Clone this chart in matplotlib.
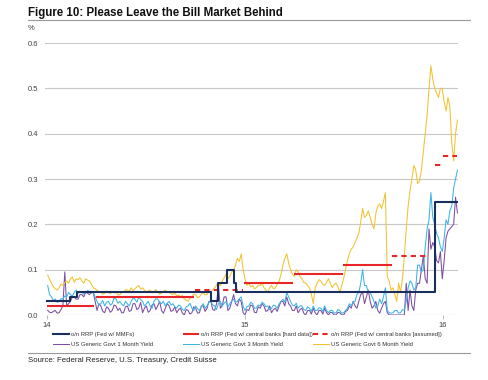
import matplotlib
matplotlib.use("Agg")
import matplotlib.pyplot as plt
import pandas as pd

plt.rcParams['font.family'] = ['Liberation Sans', 'DejaVu Sans']

# ---------------- data ----------------
# twice-weekly observations, 2014-01-02 .. 2016-01-28
dates = pd.date_range('2014-01-02', periods=217, freq='84h')

yield_6m = [0.088, 0.078, 0.070, 0.062, 0.058, 0.055, 0.060, 0.068, 0.065, 0.072,
            0.075, 0.070, 0.080, 0.084, 0.072, 0.080, 0.078, 0.082, 0.075, 0.070,
            0.080, 0.077, 0.075, 0.068, 0.060, 0.058, 0.055, 0.050, 0.050, 0.046,
            0.048, 0.053, 0.050, 0.047, 0.052, 0.049, 0.050, 0.044, 0.045, 0.050,
            0.050, 0.056, 0.055, 0.052, 0.060, 0.054, 0.058, 0.062, 0.065, 0.057,
            0.060, 0.055, 0.050, 0.053, 0.055, 0.049, 0.052, 0.056, 0.050, 0.046,
            0.048, 0.052, 0.055, 0.050, 0.050, 0.047, 0.045, 0.049, 0.042, 0.044,
            0.040, 0.043, 0.035, 0.033, 0.030, 0.037, 0.040, 0.046, 0.045, 0.038,
            0.040, 0.046, 0.050, 0.044, 0.045, 0.052, 0.050, 0.056, 0.060, 0.066,
            0.070, 0.064, 0.075, 0.082, 0.090, 0.080, 0.085, 0.095, 0.100, 0.110,
            0.125, 0.118, 0.135, 0.100, 0.080, 0.065, 0.070, 0.062, 0.065, 0.058,
            0.060, 0.066, 0.065, 0.070, 0.060, 0.055, 0.050, 0.060, 0.065, 0.058,
            0.060, 0.068, 0.075, 0.090, 0.110, 0.125, 0.135, 0.115, 0.100, 0.090,
            0.085, 0.100, 0.095, 0.085, 0.080, 0.072, 0.070, 0.065, 0.060, 0.045,
            0.025, 0.060, 0.070, 0.078, 0.075, 0.068, 0.065, 0.072, 0.080, 0.070,
            0.060, 0.068, 0.070, 0.062, 0.050, 0.065, 0.080, 0.100, 0.120, 0.135,
            0.145, 0.150, 0.160, 0.170, 0.180, 0.205, 0.235, 0.215, 0.220, 0.230,
            0.215, 0.200, 0.190, 0.225, 0.240, 0.245, 0.235, 0.250, 0.270, 0.085,
            0.075, 0.055, 0.060, 0.045, 0.030, 0.070, 0.050, 0.080, 0.130, 0.190,
            0.240, 0.275, 0.300, 0.330, 0.320, 0.290, 0.295, 0.320, 0.360, 0.400,
            0.440, 0.500, 0.550, 0.520, 0.500, 0.490, 0.480, 0.500, 0.500, 0.470,
            0.450, 0.480, 0.460, 0.380, 0.340, 0.400,
            0.430]

yield_3m = [0.065, 0.045, 0.040, 0.032, 0.035, 0.028, 0.030, 0.036, 0.035, 0.042,
            0.040, 0.050, 0.045, 0.042, 0.050, 0.055, 0.048, 0.052, 0.050, 0.046,
            0.050, 0.054, 0.052, 0.048, 0.050, 0.040, 0.030, 0.022, 0.025, 0.032,
            0.020, 0.028, 0.030, 0.022, 0.025, 0.038, 0.035, 0.026, 0.030, 0.024,
            0.020, 0.030, 0.025, 0.020, 0.030, 0.038, 0.035, 0.028, 0.040, 0.034,
            0.030, 0.020, 0.025, 0.030, 0.020, 0.015, 0.030, 0.036, 0.035, 0.028,
            0.025, 0.030, 0.020, 0.026, 0.030, 0.022, 0.025, 0.018, 0.015, 0.022,
            0.020, 0.012, 0.010, 0.018, 0.020, 0.026, 0.015, 0.010, 0.020, 0.014,
            0.010, 0.018, 0.025, 0.015, 0.020, 0.028, 0.030, 0.022, 0.020, 0.012,
            0.025, 0.030, 0.020, 0.026, 0.030, 0.018, 0.025, 0.030, 0.035, 0.028,
            0.030, 0.036, 0.040, 0.020, 0.010, 0.018, 0.020, 0.028, 0.025, 0.015,
            0.015, 0.022, 0.020, 0.028, 0.025, 0.018, 0.020, 0.012, 0.015, 0.022,
            0.020, 0.015, 0.025, 0.030, 0.035, 0.028, 0.050, 0.040, 0.030, 0.022,
            0.020, 0.026, 0.015, 0.020, 0.020, 0.012, 0.010, 0.018, 0.015, 0.008,
            0.020, 0.010, 0.010, 0.016, 0.015, 0.008, 0.020, 0.010, 0.005, 0.010,
            0.010, 0.004, 0.005, 0.012, 0.010, 0.004, 0.005, 0.010, 0.015, 0.025,
            0.020, 0.028, 0.030, 0.045, 0.050, 0.070, 0.100, 0.065, 0.065, 0.050,
            0.050, 0.040, 0.030, 0.015, 0.020, 0.035, 0.025, 0.040, 0.060, 0.010,
            0.005, 0.004, 0.005, 0.010, 0.010, 0.004, 0.005, 0.012, 0.010, 0.030,
            0.060, 0.075, 0.070, 0.055, 0.060, 0.110, 0.110, 0.095, 0.100, 0.150,
            0.190, 0.210, 0.270, 0.215, 0.200, 0.180, 0.170, 0.150, 0.140, 0.170,
            0.210, 0.200, 0.230, 0.240, 0.280, 0.300,
            0.320]

yield_1m = [0.010, 0.006, 0.005, 0.008, 0.010, 0.004, 0.005, 0.012, 0.020, 0.095,
            0.020, 0.025, 0.030, 0.040, 0.040, 0.035, 0.035, 0.045, 0.045, 0.040,
            0.050, 0.048, 0.045, 0.050, 0.050, 0.030, 0.010, 0.025, 0.020, 0.008,
            0.005, 0.018, 0.015, 0.006, 0.010, 0.022, 0.020, 0.010, 0.015, 0.005,
            0.005, 0.018, 0.020, 0.008, 0.010, 0.025, 0.025, 0.012, 0.015, 0.028,
            0.005, 0.015, 0.020, 0.006, 0.010, 0.022, 0.025, 0.012, 0.020, 0.030,
            0.010, 0.004, 0.015, 0.025, 0.020, 0.008, 0.010, 0.018, 0.005, 0.012,
            0.015, 0.004, 0.000, 0.012, 0.010, 0.002, 0.005, 0.018, 0.015, 0.004,
            0.005, 0.020, 0.020, 0.008, 0.015, 0.030, 0.030, 0.012, 0.010, 0.025,
            0.065, 0.015, 0.020, 0.040, 0.040, 0.010, 0.015, 0.030, 0.045, 0.025,
            0.020, 0.035, 0.030, 0.005, 0.000, 0.012, 0.010, 0.022, 0.020, 0.006,
            0.005, 0.018, 0.015, 0.025, 0.020, 0.008, 0.010, 0.020, 0.005, 0.012,
            0.015, 0.008, 0.020, 0.030, 0.030, 0.020, 0.040, 0.025, 0.020, 0.010,
            0.010, 0.020, 0.005, 0.012, 0.015, 0.004, 0.000, 0.010, 0.010, 0.002,
            0.015, 0.005, 0.000, 0.010, 0.010, 0.002, 0.015, 0.005, 0.000, 0.006,
            0.005, 0.000, 0.000, 0.006, 0.005, 0.000, 0.000, 0.008, 0.010, 0.020,
            0.015, 0.030, 0.020, 0.015, 0.030, 0.045, 0.050, 0.025, 0.040, 0.055,
            0.030, 0.015, 0.020, 0.030, 0.010, 0.004, 0.015, 0.025, 0.030, 0.005,
            0.000, 0.000, 0.000, 0.000, 0.000, 0.000, 0.000, 0.000, 0.000, 0.070,
            0.010, 0.055, 0.020, 0.010, 0.055, 0.070, 0.070, 0.100, 0.130, 0.080,
            0.070, 0.190, 0.145, 0.160, 0.150, 0.120, 0.115, 0.140, 0.080, 0.120,
            0.170, 0.185, 0.190, 0.195, 0.200, 0.260,
            0.225]

# o/n RRP offered to MMFs (step function: change dates and rates)
rrp_mmf_edges = ['2014-01-01', '2014-02-12', '2014-02-25', '2014-10-30', '2014-11-12',
                 '2014-11-28', '2014-12-11', '2014-12-15', '2015-12-17', '2016-01-28']
rrp_mmf_rates = [0.03, 0.04, 0.05, 0.03, 0.07, 0.10, 0.07, 0.05, 0.25]

# o/n RRP for central banks, hard data (start, end, rate)
rrp_cb_start = ['2014-01-01', '2014-04-01', '2014-12-30', '2015-04-01', '2015-07-01']
rrp_cb_end = ['2014-03-28', '2014-09-29', '2015-03-31', '2015-06-30', '2015-09-30']
rrp_cb_rate = [0.02, 0.04, 0.07, 0.09, 0.11]

# o/n RRP for central banks, assumed
rrp_cba_start = ['2014-09-30', '2015-09-30', '2015-12-17', '2016-01-01']
rrp_cba_end = ['2014-12-28', '2015-12-01', '2015-12-29', '2016-01-28']
rrp_cba_rate = [0.055, 0.13, 0.33, 0.35]

y_ticks = [0.0, 0.1, 0.2, 0.3, 0.4, 0.5, 0.6]
x_ticks = ['2014-01-01', '2015-01-01', '2016-01-01']
x_ticklabels = ['14', '15', '16']

# ---------------- colours ----------------
c_navy = '#1B2F5E'
c_red = '#E8262A'
c_purple = '#7A4DA3'
c_blue = '#3CB4E5'
c_yellow = '#F2C230'

fig = plt.figure(figsize=(4.88, 3.8), dpi=100)
ax = fig.add_axes([45 / 488, 1 - 315 / 380, 413 / 488, 272 / 380])

l1m, = ax.plot(dates, yield_1m, color=c_purple, lw=0.75, zorder=2)
l3m, = ax.plot(dates, yield_3m, color=c_blue, lw=0.75, zorder=2)
l6m, = ax.plot(dates, yield_6m, color=c_yellow, lw=0.75, zorder=2)

edges = pd.to_datetime(rrp_mmf_edges)
lmmf, = ax.step(edges, rrp_mmf_rates + [rrp_mmf_rates[-1]], where='post',
                color=c_navy, lw=1.5, zorder=4)

lcb = ax.hlines(rrp_cb_rate, pd.to_datetime(rrp_cb_start), pd.to_datetime(rrp_cb_end),
                color=c_red, lw=1.5, zorder=3)
for s, e, r in zip(rrp_cba_start, rrp_cba_end, rrp_cba_rate):
    lcba, = ax.plot(pd.to_datetime([s, e]), [r, r], color=c_red, lw=1.5,
                    dashes=(2.5, 2), zorder=3)

ax.set_ylim(0, 0.6)
ax.set_xlim(pd.Timestamp('2013-12-28'), pd.Timestamp('2016-01-29'))
ax.set_yticks(y_ticks)
ax.set_yticklabels([f'{v:.1f}' for v in y_ticks])
ax.set_xticks(pd.to_datetime(x_ticks))
ax.set_xticklabels(x_ticklabels)
ax.grid(axis='y', color='#C8C8C8', lw=0.8)
ax.set_axisbelow(True)
for s in ['top', 'right', 'left', 'bottom']:
    ax.spines[s].set_visible(False)
ax.tick_params(axis='y', length=0, pad=5, labelsize=5.5, labelcolor='#404040')
ax.tick_params(axis='x', length=3, width=0.6, color='#B0B0B0', pad=2,
               labelsize=5.5, labelcolor='#404040')

# ---------------- texts ----------------
fig.text(28 / 488, 1 - 7 / 380, 'Figure 10: Please Leave the Bill Market Behind',
         fontsize=8.3, fontweight='bold', va='top', ha='left', color='#111111')
fig.add_artist(plt.Line2D([28 / 488, 470 / 488], [1 - 20 / 380, 1 - 20 / 380],
                          color='#999999', lw=0.8))
fig.text(28 / 488, 1 - 28 / 380, '%', fontsize=5.5, va='center', ha='left', color='#404040')
fig.add_artist(plt.Line2D([28 / 488, 470 / 488], [1 - 353 / 380, 1 - 353 / 380],
                          color='#999999', lw=0.8))
fig.text(28 / 488, 1 - 361 / 380, 'Source: Federal Reserve, U.S. Treasury, Credit Suisse',
         fontsize=5.6, va='center', ha='left', color='#222222')

# ---------------- legend (three columns) ----------------
leg_kw = dict(loc='upper left', frameon=False, fontsize=4.2, borderpad=0,
              handlelength=2.8, handletextpad=0.3, labelspacing=0.8, borderaxespad=0)
cols = [
    ([lmmf, l1m], ['o/n RRP (Fed w/ MMFs)', 'US Generic Govt 1 Month Yield'], 53),
    ([lcb, l3m], ['o/n RRP (Fed w/ central banks [hard data])', 'US Generic Govt 3 Month Yield'], 183),
    ([lcba, l6m], ['o/n RRP (Fed w/ central banks [assumed])', 'US Generic Govt 6 Month Yield'], 313),
]
for handles, labels, x0 in cols:
    lg = fig.legend(handles, labels, bbox_to_anchor=(x0 / 488, 1 - 332 / 380), **leg_kw)
    for t in lg.get_texts():
        t.set_color('#333333')

fig.savefig('out.png', dpi=100)
